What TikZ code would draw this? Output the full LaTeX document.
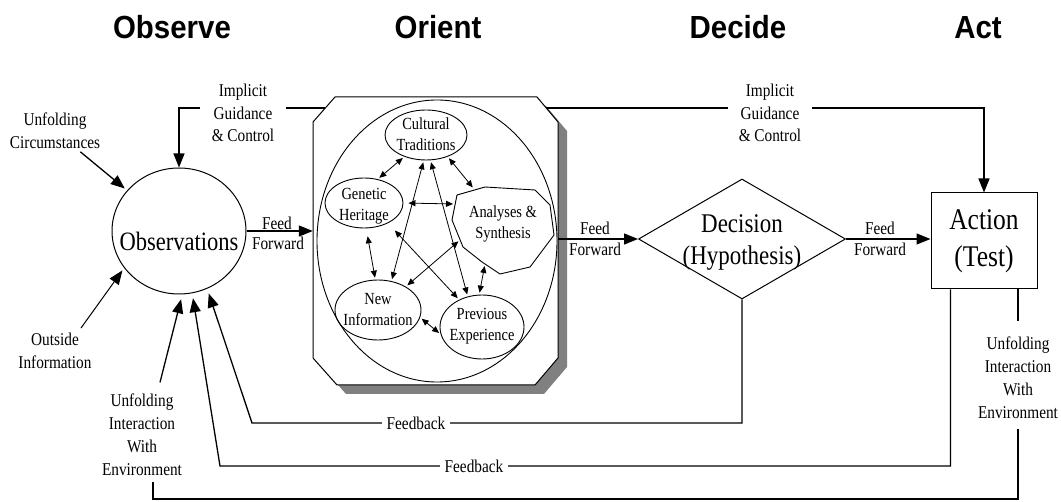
\documentclass[tikz,border=0pt]{standalone}
\usepackage{fontspec}
\setmainfont{Liberation Serif}
\newfontfamily\lblfont[FakeStretch=0.85]{Liberation Serif}
\newfontfamily\ttlfont[FakeStretch=0.92]{Liberation Sans}
\usetikzlibrary{shapes.geometric,arrows.meta,calc}
\begin{document}
\begin{tikzpicture}[x=1pt,y=-1pt,
  ttl/.style={font=\ttlfont\bfseries\fontsize{32}{36}\selectfont, anchor=base, inner sep=0pt},
  lbl/.style={font=\lblfont\fontsize{18}{22.5}\selectfont, align=center, inner sep=1pt},
  inlbl/.style={font=\lblfont\fontsize{17}{21}\selectfont, align=center, inner sep=0pt},
  big/.style={font=\lblfont\fontsize{27}{32}\selectfont, align=center, inner sep=0pt},
  conn/.style={line width=1.3pt},
  arr/.style={conn, -{Triangle[length=14pt,width=11pt]}},
  inarr/.style={line width=0.8pt, {Triangle[length=7pt,width=6pt]}-{Triangle[length=7pt,width=6pt]}, shorten <=2pt, shorten >=2pt},
  ell/.style={ellipse, draw, line width=0.9pt, inner sep=0pt},
]
\useasboundingbox (0,0) rectangle (1061,502);

% titles
\node[ttl] (tObs) at (172,39) {Observe};
\node[ttl] (tOri) at (438,39) {Orient};
\node[ttl] (tDec) at (738,39) {Decide};
\node[ttl] (tAct) at (978,39) {Act};

% orient box with shadow
\begin{scope}[shift={(9,9)}]
\fill[gray] (335,97) -- (537,97) -- (558,122) -- (558,358) -- (535,385) -- (337,385) -- (313,358) -- (313,122) -- cycle;
\end{scope}
\draw[line width=1pt, fill=white] (335,97) -- (537,97) -- (558,122) -- (558,358) -- (535,385) -- (337,385) -- (313,358) -- (313,122) -- cycle;
\node[minimum width=245pt, minimum height=288pt, inner sep=0pt] (orient) at (435.5,241) {};
\coordinate (igL) at (325,108);
\coordinate (igR) at (546,108);

% big ellipse
\node[ell, minimum width=240pt, minimum height=282pt] (bigell) at (437,241) {};

% inner ellipses
\node[ell, minimum width=82pt, minimum height=50pt] (cult) at (426,135) {};
\node[inlbl] (cultT) at (426,134) {Cultural\\Traditions};
\node[ell, minimum width=78pt, minimum height=50pt] (gen) at (364,203) {};
\node[inlbl] (genT) at (364,206) {Genetic\\Heritage};
\node[ell, minimum width=86pt, minimum height=60pt] (newi) at (378,310) {};
\node[inlbl] (newiT) at (378,310) {New\\Information};
\node[ell, minimum width=84pt, minimum height=64pt] (prev) at (482,327) {};
\node[inlbl] (prevT) at (482,326) {Previous\\Experience};
\draw[line width=0.9pt] (457,195) -- (485,187) -- (535,190) -- (550,205) -- (554,235) -- (530,267) -- (500,274) -- (482,262) -- (463,247) -- (452,220) -- cycle;
\node[inlbl] (ana) at (503,224) {Analyses \&\\Synthesis};
\coordinate (anaT) at (474,189);
\coordinate (anaL) at (455,204);
\coordinate (anaBL) at (460,240);
\coordinate (anaB) at (485,264);

% inner arrows
\draw[inarr] (gen.60) -- (cult.225);
\draw[inarr] (cult.-45) -- (anaT);
\draw[inarr, shorten <=5pt] (gen.east) -- (anaL);
\draw[inarr, shorten <=8pt] (gen.-85) -- (newi.95);
\draw[inarr] (cult.-95) -- (newi.65);
\draw[inarr] (cult.-80) -- (prev.115);
\draw[inarr, shorten <=10pt] (gen.-40) -- (prev.130);
\draw[inarr] (anaBL) -- (newi.40);
\draw[inarr] (anaB) -- (prev.95);
\draw[inarr] (newi.-10) -- (prev.190);

% observations
\node[ell, line width=1pt, minimum width=134pt, minimum height=126pt] (obs) at (179,231) {};
\node[big, font=\lblfont\fontsize{26.5}{30}\selectfont] (obsT) at (179,241) {Observations};

% decision
\node[diamond, draw, line width=1pt, minimum width=207pt, minimum height=120pt, inner sep=0pt] (dec) at (742,239) {};
\node[big] (decT) at (742,242) {Decision\\(Hypothesis)};

% action
\node[draw, line width=1pt, minimum width=106pt, minimum height=96pt, big, font=\lblfont\fontsize{30}{37}\selectfont] (act) at (984,241) {Action\\(Test)};

% feed forward
\draw[arr] (obs.east) -- (obs.east -| orient.west);
\node[lbl] (ff1a) at (277,223) {Feed};
\node[lbl] (ff1b) at (278,243) {Forward};
\draw[arr] (orient.east |- dec.west) -- (dec.west);
\node[lbl] (ff2a) at (595,228) {Feed};
\node[lbl] (ff2b) at (595,249) {Forward};
\draw[arr] (dec.east) -- (dec.east -| act.west);
\node[lbl] (ff3a) at (880,228) {Feed};
\node[lbl] (ff3b) at (880,249) {Forward};

% implicit guidance
\draw[arr] (igL) -| (obs.north);
\node[lbl, fill=white, inner xsep=12pt] (igLT) at (243,113) {Implicit\\Guidance\\\& Control};
\draw[arr] (igR) -| (act.north);
\node[lbl, fill=white, inner xsep=11pt] (igRT) at (770,113) {Implicit\\Guidance\\\& Control};

% outside inputs
\node[lbl] (uc) at (55,131) {Unfolding\\Circumstances};
\draw[arr, shorten <=3pt, shorten >=3pt] ([xshift=23pt]uc.south) -- (obs.142);
\node[lbl] (oi) at (55,351) {Outside\\Information};
\draw[line width=1pt, -{Triangle[length=14pt,width=11pt]}, shorten <=5pt, shorten >=3pt] ([xshift=23pt]oi.north) -- (obs.214);

% feedback loops
\coordinate (fb1c) at (252,423);
\coordinate (fb2c) at (220,466);
\coordinate (bot) at (0,499);
\draw[arr, shorten >=5pt] (dec.south) |- (fb1c) -- (obs.-64);
\node[lbl, fill=white, inner xsep=5pt] (fb1) at (416,423) {Feedback};
\draw[arr, shorten >=5pt] ([xshift=20pt]act.south west) |- (fb2c) -- (obs.-78);
\node[lbl, fill=white, inner xsep=5pt] (fb2) at (474,466) {Feedback};

% unfolding interaction
\node[lbl, font=\lblfont\fontsize{18}{23}\selectfont] (uiL) at (142,434.5) {Unfolding\\Interaction\\With\\Environment};
\node[lbl, font=\lblfont\fontsize{18}{23}\selectfont] (uiR) at (1018,377.5) {Unfolding\\Interaction\\With\\Environment};
\draw[arr, shorten >=5pt] ([shift={(18,-10)}]uiL.north) -- (obs.-87);
\draw[conn, shorten >=14pt] ([xshift=34pt]act.south) -- (uiR.north);
\draw[conn, shorten <=9pt, shorten >=5pt] (uiR.south) -- (uiR.south |- bot) -- ([xshift=11pt]uiL.south |- bot) -- ([xshift=11pt]uiL.south);
\end{tikzpicture}
\end{document}
